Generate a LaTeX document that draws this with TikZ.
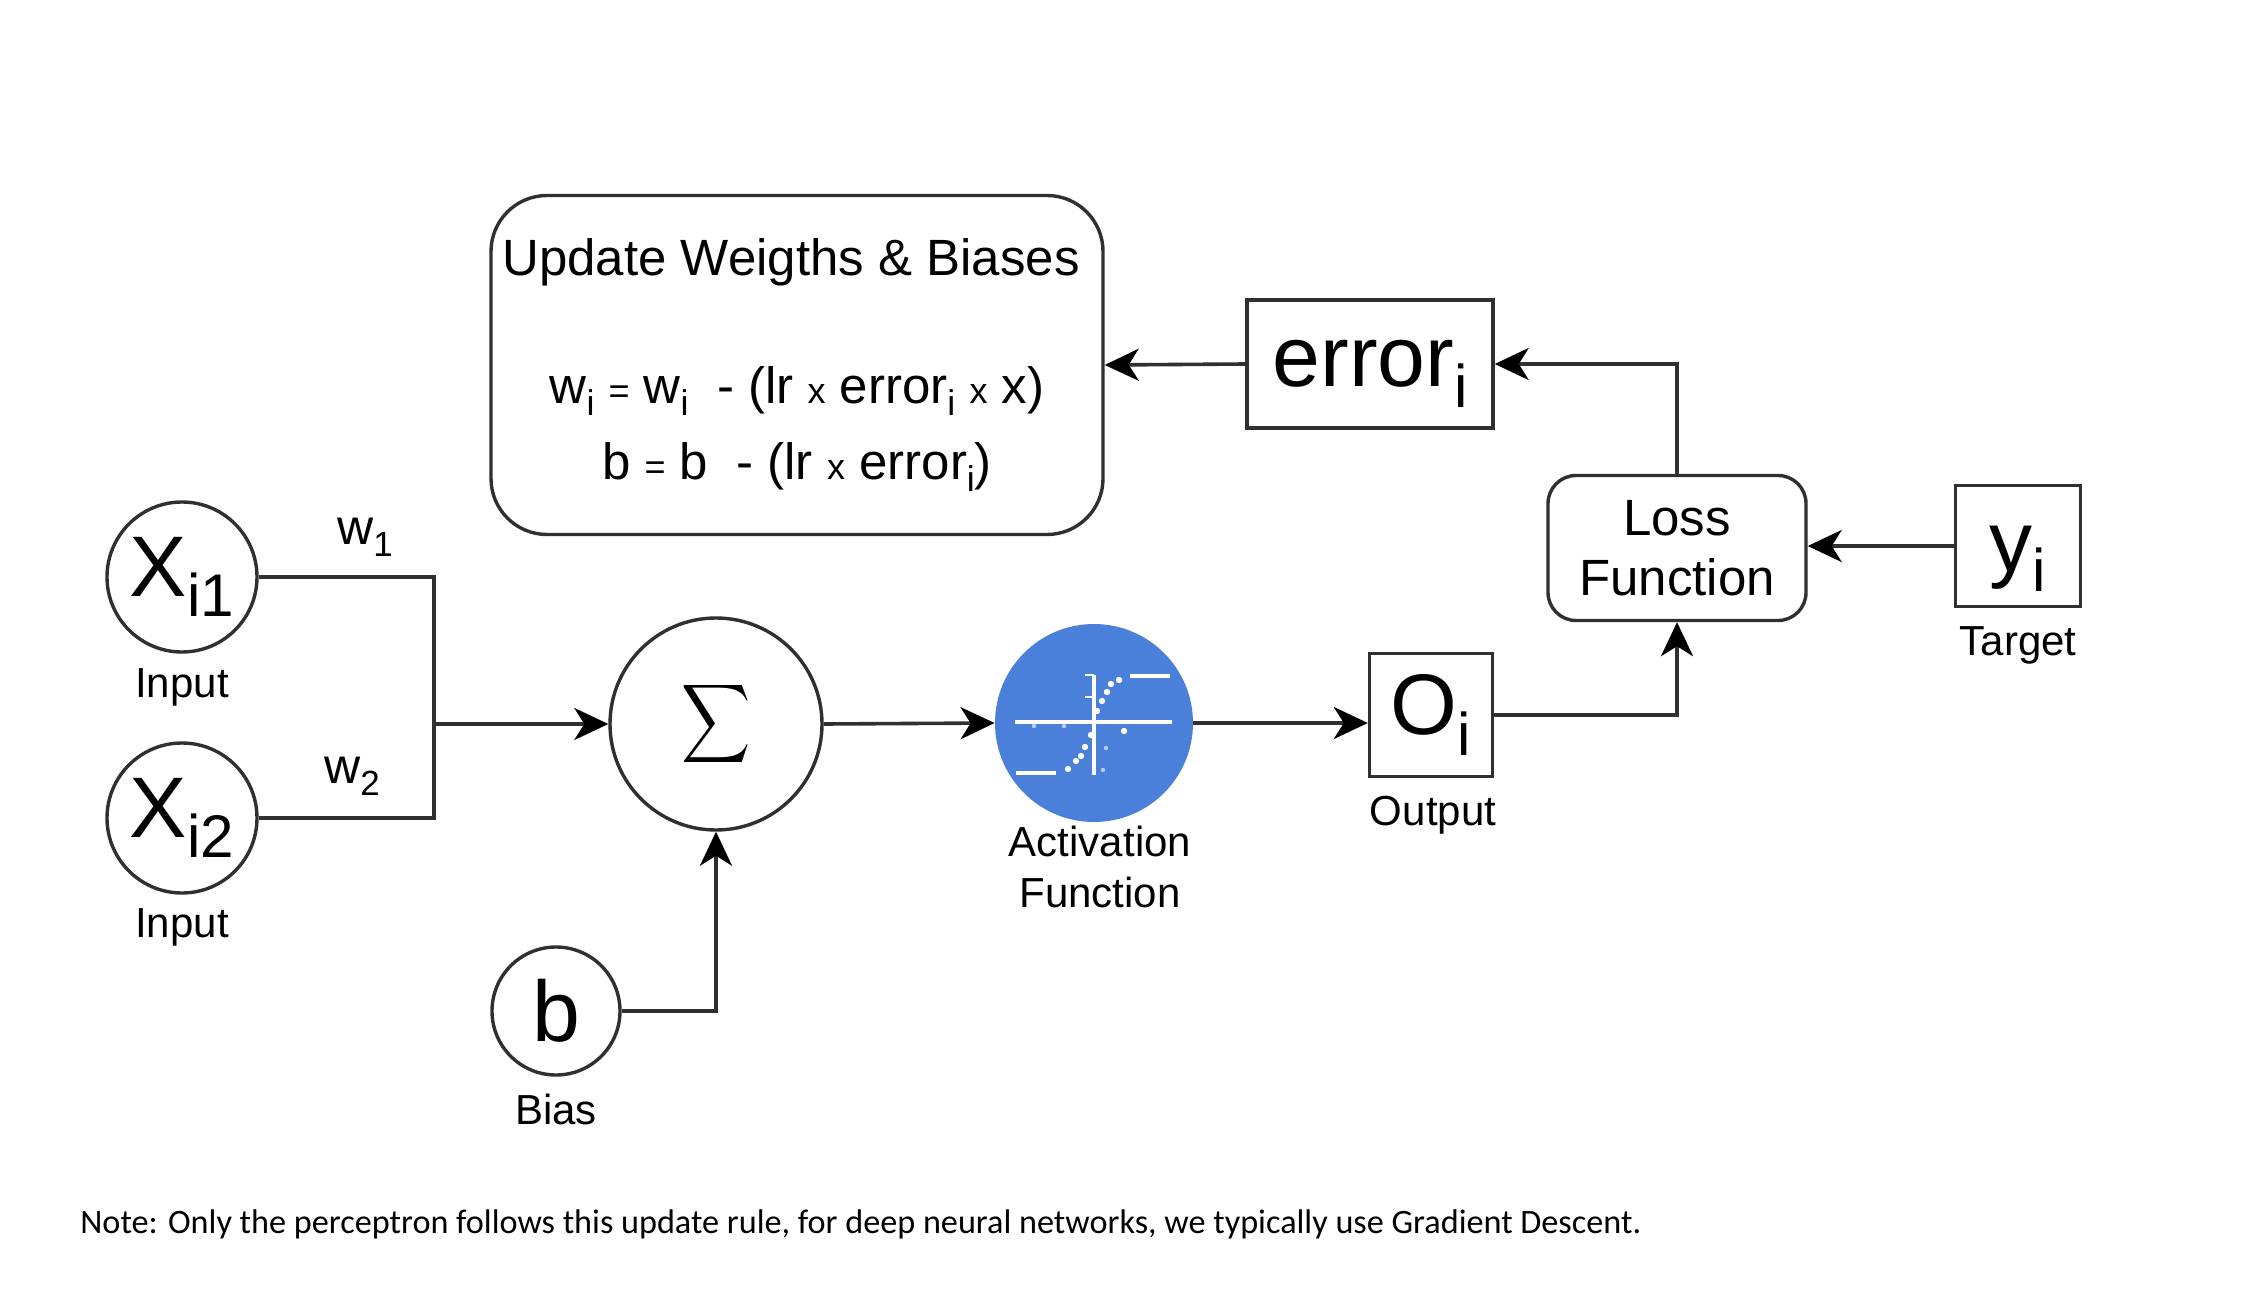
\documentclass[tikz,border=0pt]{standalone}
\usepackage{fontspec}
\setmainfont{Liberation Sans}
\newfontfamily\notefont{Carlito}
\usetikzlibrary{arrows.meta}
\newcommand{\fs}[2]{\fontsize{#1}{#2}\selectfont}
\newcommand{\subtxt}[1]{\raisebox{-0.24em}{\scalebox{0.7}{#1}}}
\newcommand{\flatsub}[1]{\raisebox{-0.24em}[0pt][0pt]{\scalebox{0.7}{#1}}}
\newcommand{\smallop}[1]{{\fs{18}{18}#1}}
\definecolor{actblue}{HTML}{4A80DA}
\definecolor{wire}{HTML}{303030}
\tikzset{
  big/.style={font=\fs{43}{46}},
  caption/.style={font=\fs{21}{25.5}, align=center, inner sep=0pt},
  weight/.style={font=\fs{25}{30}, inner sep=0pt},
  circ/.style={circle, draw=wire, line width=1.7pt, fill=white, inner sep=0pt, big},
  sq/.style={rectangle, draw=wire, line width=1.7pt, fill=white, inner sep=0pt, big},
  rbox/.style={rectangle, rounded corners=#1, draw=wire, line width=1.7pt, fill=white, align=center, inner sep=0pt, font=\fs{25.5}{30}},
  wiring/.style={draw=wire, line width=1.8pt},
  flow/.style={wiring, -{Stealth[length=17pt, width=16pt, inset=5pt, color=black]}},
  curve/.style={white, line width=2pt}
}
\begin{document}
\begin{tikzpicture}[x=0.5pt, y=-0.5pt]
\useasboundingbox (0,0) rectangle (2268,1294);
% inputs
\node (x1) [circ, minimum size=75pt] at (182,577) {X\subtxt{i1}};
\node (x2) [circ, minimum size=75pt, below of=x1, node distance=120.5pt] {X\subtxt{i2}};
\node (in1) [caption, below of=x1, node distance=55pt] {Input};
\node (in2) [caption, below of=x2, node distance=54.5pt] {Input};
\node (w1) [weight] at (365,537) {w\subtxt{1}};
\node (w2) [weight] at (352,776) {w\subtxt{2}};
% sum and bias
\node (sum) [circ, minimum size=106pt] at (716,724) {\scalebox{2.4}[2.75]{$\displaystyle\sum$}};
\node (bias) [circ, minimum size=64pt] at (556,1011) {b};
\node (biaslbl) [caption, below of=bias, node distance=49pt] {Bias};
\coordinate (junc) at (434,724);
% activation
\node (act) [circle, fill=actblue, inner sep=0pt, minimum size=99pt] at (1094,723) {};
\node (actlbl) [caption] at (1100,867) {Activation\\Function};
\draw[curve] (1015,722) -- (1172,722);
\draw[curve] (1094,675) -- (1094,775);
\draw[curve] (1130,676) -- (1170,676);
\draw[curve] (1016,773) -- (1056,773);
\draw[curve, line width=1pt] (1085,675) -- (1094,675);
\draw[curve, line width=1pt] (1085,697) -- (1094,697);
\foreach \px/\py in {1068/769, 1076/761, 1081/756, 1085/747, 1091/735, 1097/711, 1102/701, 1107/692, 1111/684, 1119/680, 1124/731}
  \fill[white] (\px,\py) circle (1.6pt);
\foreach \px/\py in {1034/726, 1064/726, 1106/748, 1103/770}
  \fill[white, opacity=0.6] (\px,\py) circle (1.1pt);
% output and loss
\node (out) [sq, minimum size=61.5pt] at (1431,715) {O\subtxt{i}};
\node (outlbl) [caption, below of=out, node distance=50pt, xshift=1pt] {Output};
\node (loss) [rbox=14pt, minimum width=129pt, minimum height=72.5pt] at (1677,548) {Loss\\Function};
\node (target) [sq, minimum width=62.5pt, minimum height=60.5pt, text height=34pt] at (2018,546) {y\flatsub{i}};
\node (tgtlbl) [caption, below of=target, node distance=49.5pt] {Target};
\node (err) [sq, minimum width=123pt, minimum height=64pt] at (1370,364) {error\flatsub{i}};
\node (upd) [rbox=28pt, minimum width=306pt, minimum height=169.5pt] at (797,365) {%
  Update Weigths \& Biases\hspace*{6pt}\\[34pt]
  w\subtxt{i} \smallop{=} w\subtxt{i}\ \ - (lr \smallop{x} error\subtxt{i} \smallop{x} x)\\[8pt]
  b \smallop{=} b\ \ - (lr \smallop{x} error\subtxt{i})};
% connectors
\draw[wiring] (x1.east) -| (junc);
\draw[wiring] (x2.east) -| (junc);
\draw[flow] (junc) -- (sum.west);
\draw[flow] (bias.east) -| (sum.south);
\draw[flow] (sum.east) -- (act.west);
\draw[flow] (act.east) -- (act.east -| out.west);
\draw[flow] (out.east) -| (loss.south);
\draw[flow] (target.west) -- (target.west -| loss.east);
\draw[flow] (loss.north) |- (err.east);
\draw[flow] (err.west) -- (upd.east);
% note
\node (note) [anchor=base west, inner sep=0pt, font=\notefont\fs{17.1}{20}] at (80,1233) {Note: Only the perceptron follows this update rule, for deep neural networks, we typically use Gradient Descent.};
\end{tikzpicture}
\end{document}
